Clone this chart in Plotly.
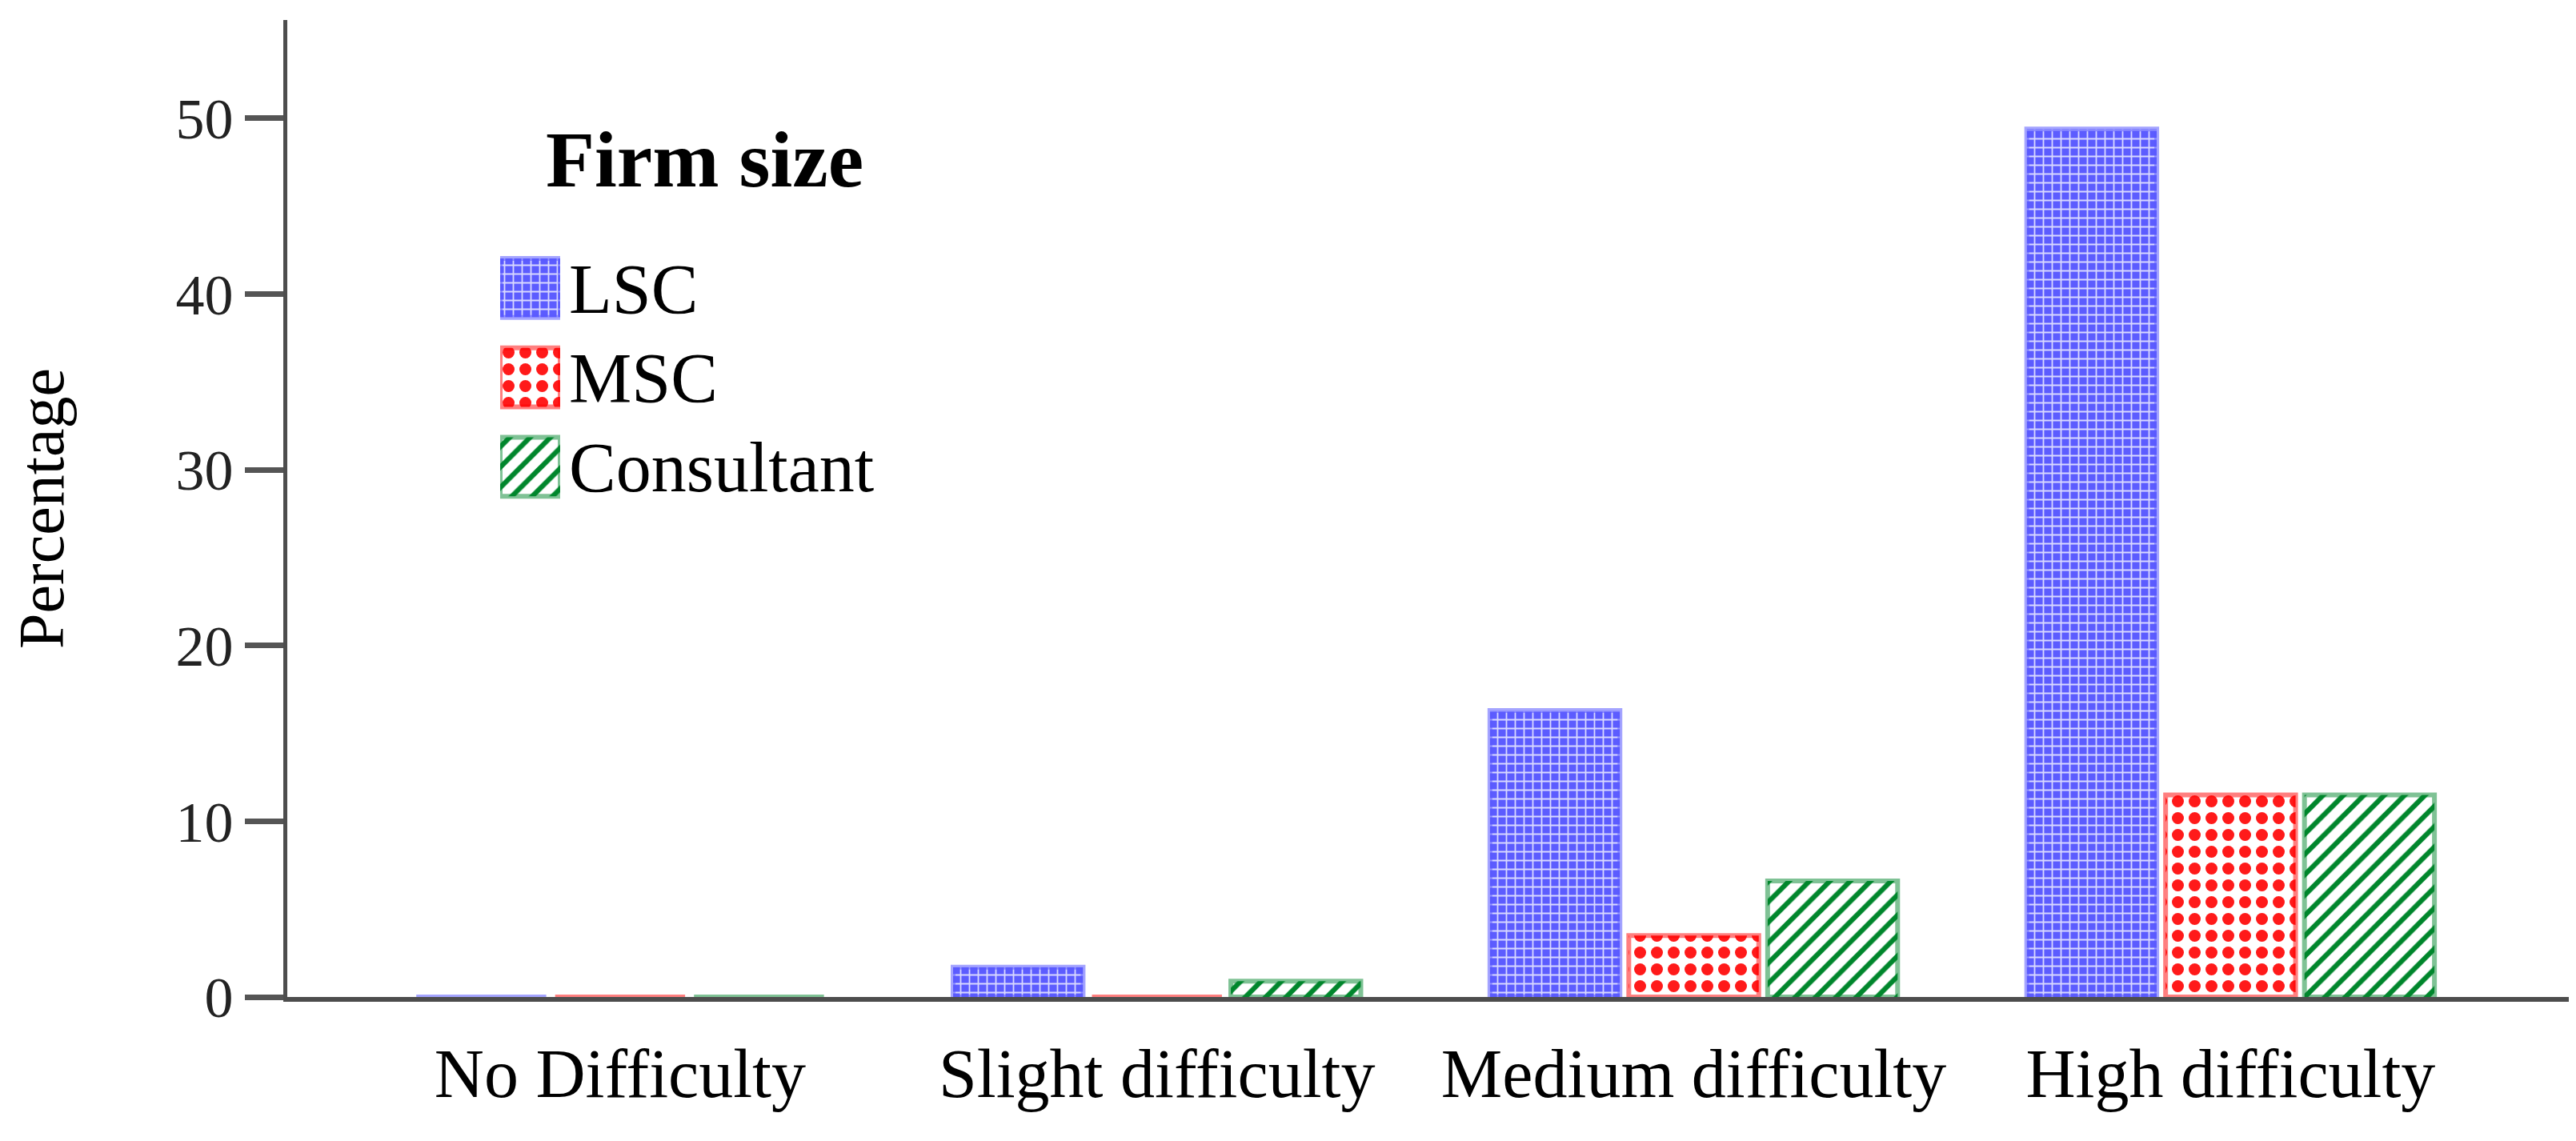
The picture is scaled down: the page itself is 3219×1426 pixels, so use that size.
"""Firm size vs. difficulty grouped bar chart"""

import plotly.graph_objects as go

categories = ["No Difficulty", "Slight difficulty", "Medium difficulty", "High difficulty"]
series_names = ["LSC", "MSC", "Consultant"]
lsc = [0, 1.7, 16.3, 49.4]
msc = [0, 0, 3.5, 11.5]
consultant = [0, 0.9, 6.6, 11.5]
y_ticks = [0, 10, 20, 30, 40, 50]

FONT = "Liberation Serif"

styles = {
    "LSC": dict(
        color="#7373ff",
        line=dict(color="rgba(90,90,255,0.55)", width=6),
        pattern=dict(shape="+", fgcolor="#d8d8ff", bgcolor="#5c5cff",
                     size=11, solidity=0.3, fillmode="replace"),
    ),
    "MSC": dict(
        color="#ff0000",
        line=dict(color="rgba(255,0,0,0.5)", width=6),
        pattern=dict(shape=".", fgcolor="#ff1a1a", bgcolor="#ffffff",
                     size=21, solidity=0.4, fillmode="replace"),
    ),
    "Consultant": dict(
        color="#00862c",
        line=dict(color="rgba(0,134,44,0.5)", width=6),
        pattern=dict(shape="/", fgcolor="#00862c", bgcolor="#ffffff",
                     size=18, solidity=0.35, fillmode="replace"),
    ),
}

fig = go.Figure()
for name, values in zip(series_names, [lsc, msc, consultant]):
    fig.add_trace(go.Bar(
        x=categories,
        y=values,
        name=name,
        marker=styles[name],
        showlegend=False,
    ))

# legend swatches drawn as an inset subplot so they can be large
for name in series_names:
    fig.add_trace(go.Bar(
        x=[1], y=[name],
        orientation="h",
        xaxis="x2", yaxis="y2",
        width=0.66,
        marker=styles[name],
        showlegend=False,
        hoverinfo="skip",
    ))

fig.add_annotation(
    text="<b>Firm size</b>",
    xref="paper", yref="paper", x=0.183, y=0.857,
    xanchor="center", yanchor="middle", showarrow=False,
    font=dict(family=FONT, size=100, color="#000000"),
)

# page body adds 8px, margins compensate for it
fig.update_layout(
    width=3219,
    height=1426,
    margin=dict(l=351, r=17, t=17, b=188),
    paper_bgcolor="white",
    plot_bgcolor="white",
    barmode="group",
    bargap=0.224,
    bargroupgap=0.064,
    showlegend=False,
    font=dict(family=FONT, color="#1a1a1a"),
    xaxis=dict(
        range=[-0.62, 3.63],
        automargin=False,
        showline=True, linecolor="#4d4d4d", linewidth=6,
        ticks="", showgrid=False, zeroline=False,
        tickfont=dict(family=FONT, size=86, color="#000000"),
        ticklabelstandoff=16,
    ),
    yaxis=dict(
        range=[0, 55.6],
        automargin=False,
        tickvals=y_ticks,
        showline=True, linecolor="#4d4d4d", linewidth=5,
        ticks="outside", ticklen=48, tickwidth=7, tickcolor="#555555",
        showgrid=False, zeroline=False,
        tickfont=dict(family=FONT, size=72, color="#222222"),
        title=dict(text="Percentage", standoff=170,
                   font=dict(family=FONT, size=80, color="#000000")),
    ),
    xaxis2=dict(domain=[0.0933, 0.1196], anchor="y2", range=[0, 1], visible=False),
    yaxis2=dict(
        domain=[0.497, 0.7715], anchor="x2", side="right",
        automargin=False,
        categoryorder="array", categoryarray=series_names[::-1],
        showline=False, showgrid=False, zeroline=False, ticks="",
        ticklabelstandoff=10,
        tickfont=dict(family=FONT, size=88, color="#000000"),
    ),
)

fig.write_html("out.html")
